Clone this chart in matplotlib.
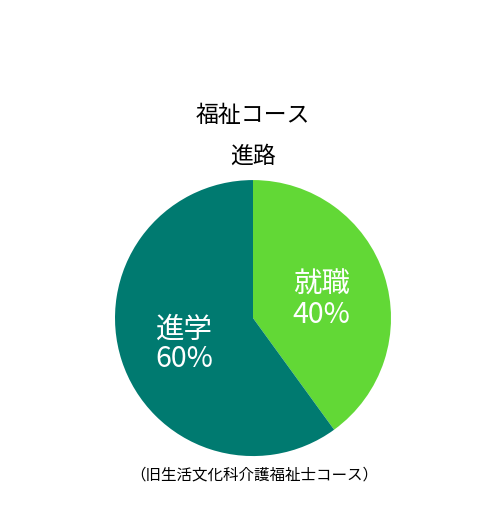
import matplotlib.pyplot as plt

plt.rcParams['font.family'] = ['Noto Sans CJK JP', 'DejaVu Sans']

labels = ['就職', '進学']
values = [40, 60]
colors = ['#62d836', '#007a70']

fig = plt.figure(figsize=(5, 5.23), dpi=100)
ax = fig.add_axes([0.23, 0.128, 0.552, 0.5277])


def fmt(pct):
    idx = 0 if abs(pct - values[0]) < 0.5 else 1
    return f"{labels[idx]}\n{pct:.0f}%"


wedges, _, autotexts = ax.pie(values, colors=colors, startangle=90, counterclock=False,
                              autopct=fmt, pctdistance=0.52,
                              wedgeprops=dict(linewidth=0),
                              textprops=dict(color='white', fontsize=20.5, linespacing=1.0))
# nudge labels down a little to sit like the reference
for t in autotexts:
    x, y = t.get_position()
    t.set_position((x, y - 0.03))
ax.set_xlim(-1, 1)
ax.set_ylim(-1, 1)
ax.set_aspect('equal')

fig.text(0.506, 1 - 115 / 523, '福祉コース', ha='center', va='center', fontsize=16.5)
fig.text(0.506, 1 - 156 / 523, '進路', ha='center', va='center', fontsize=16.5)
fig.text(0.508, 1 - 475 / 523, '（旧生活文化科介護福祉士コース）', ha='center', va='center', fontsize=11.2)

fig.savefig('out.png', dpi=100)
